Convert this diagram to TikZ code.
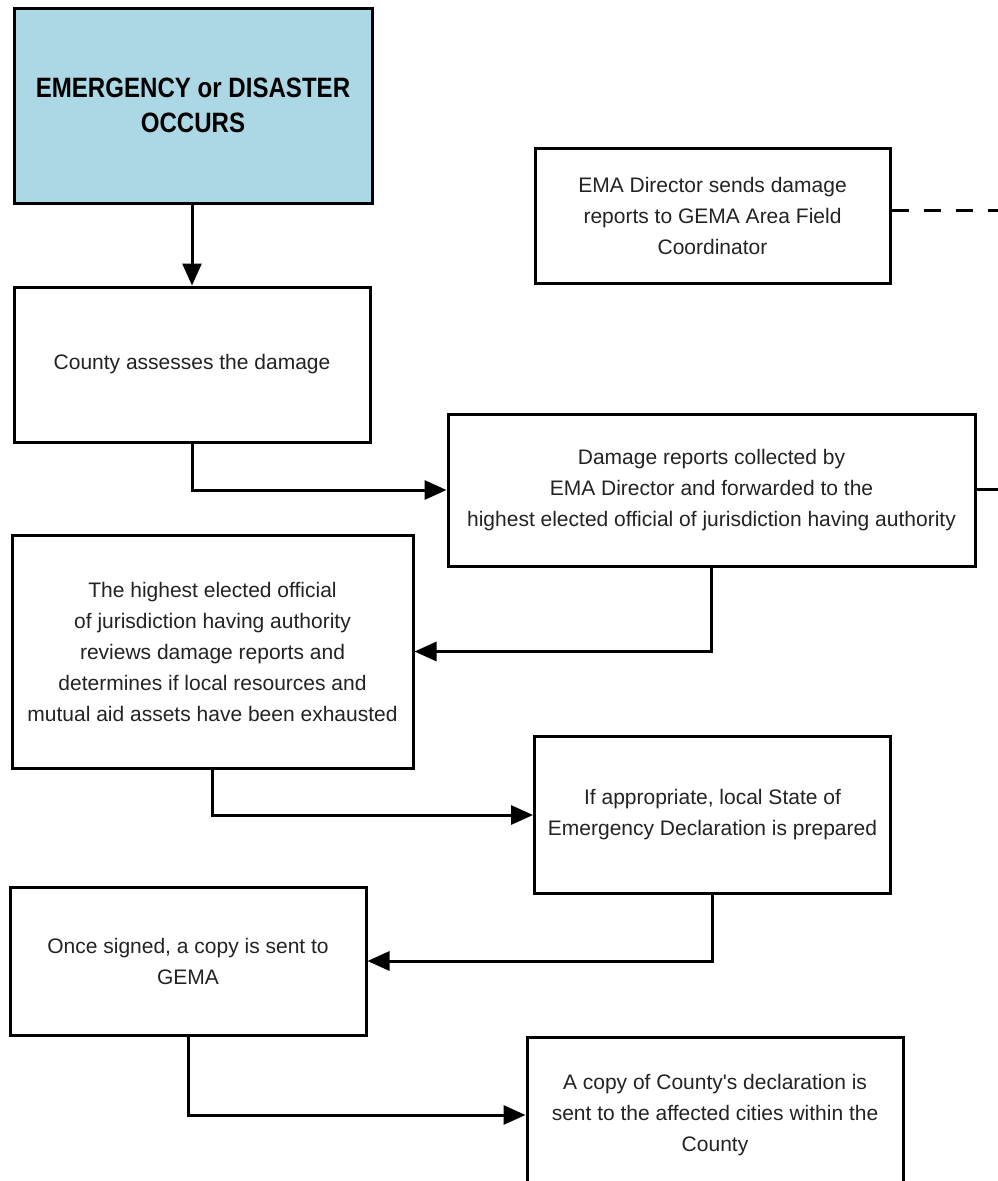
\documentclass[tikz,border=0pt]{standalone}
\usepackage{fontspec}
\setmainfont{Liberation Sans}
\newfontfamily\titlefont[FakeStretch=0.86]{Liberation Sans}
\usetikzlibrary{arrows.meta,calc}
\definecolor{titlefill}{RGB}{172,215,228}
\definecolor{txt}{RGB}{35,35,35}
\tikzset{
  box/.style={draw=black, line width=3pt, fill=white, align=center, text=txt,
    inner sep=0pt, font=\fontsize{21}{31}\selectfont},
  titlebox/.style={box, fill=titlefill, text=black, font=\titlefont\bfseries\fontsize{28}{35}\selectfont},
  conn/.style={line width=3pt, -{Triangle[length=22pt,width=19pt]}},
  link/.style={line width=3pt},
}
\begin{document}
\begin{tikzpicture}[x=1pt,y=-1pt]
\clip (0,0) rectangle (998,1181);
\fill[white] (0,0) rectangle (998,1181);

\node[titlebox, minimum width=358pt, minimum height=195pt] (em) at (193,105.5)
  {EMERGENCY or DISASTER\\OCCURS};
\node[box, minimum width=356pt, minimum height=155pt] (county) at (192,364.5)
  {County assesses the damage};
\node[box, minimum width=355pt, minimum height=135pt] (ema) at (712.5,215.5)
  {EMA Director sends damage\\reports to GEMA Area Field\\Coordinator};
\node[box, minimum width=527pt, minimum height=152pt] (damage) at (711.5,490)
  {Damage reports collected by\\EMA Director and forwarded to the\\highest elected official of jurisdiction having authority};
\node[box, minimum width=401pt, minimum height=233pt] (highest) at (212.5,651.5)
  {The highest elected official\\of jurisdiction having authority\\reviews damage reports and\\determines if local resources and\\mutual aid assets have been exhausted};
\node[box, minimum width=356pt, minimum height=157pt] (ifapp) at (712.5,815)
  {If appropriate, local State of\\Emergency Declaration is prepared};
\node[box, minimum width=356pt, minimum height=148pt] (once) at (188,961)
  {Once signed, a copy is sent to\\GEMA};
\node[box, minimum width=376pt, minimum height=156pt] (copy) at (715,1115)
  {A copy of County\textquotesingle s declaration is\\sent to the affected cities within the\\County};

\coordinate (r1) at (998,210);
\coordinate (r2) at (998,489);

\draw[conn] (em.south -| county.north) -- (county.north);
\draw[conn] (county.south) |- (damage.west);
\draw[conn] (damage.south) |- (highest.east);
\draw[conn] (highest.south) |- (ifapp.west);
\draw[conn] (ifapp.south) |- (once.east);
\draw[conn] (once.south) |- (copy.west);
\draw[link, dash pattern=on 17pt off 15pt] (r1 -| ema.east) -- (r1);
\draw[link] (damage.east |- r2) -- (r2);
\end{tikzpicture}
\end{document}
